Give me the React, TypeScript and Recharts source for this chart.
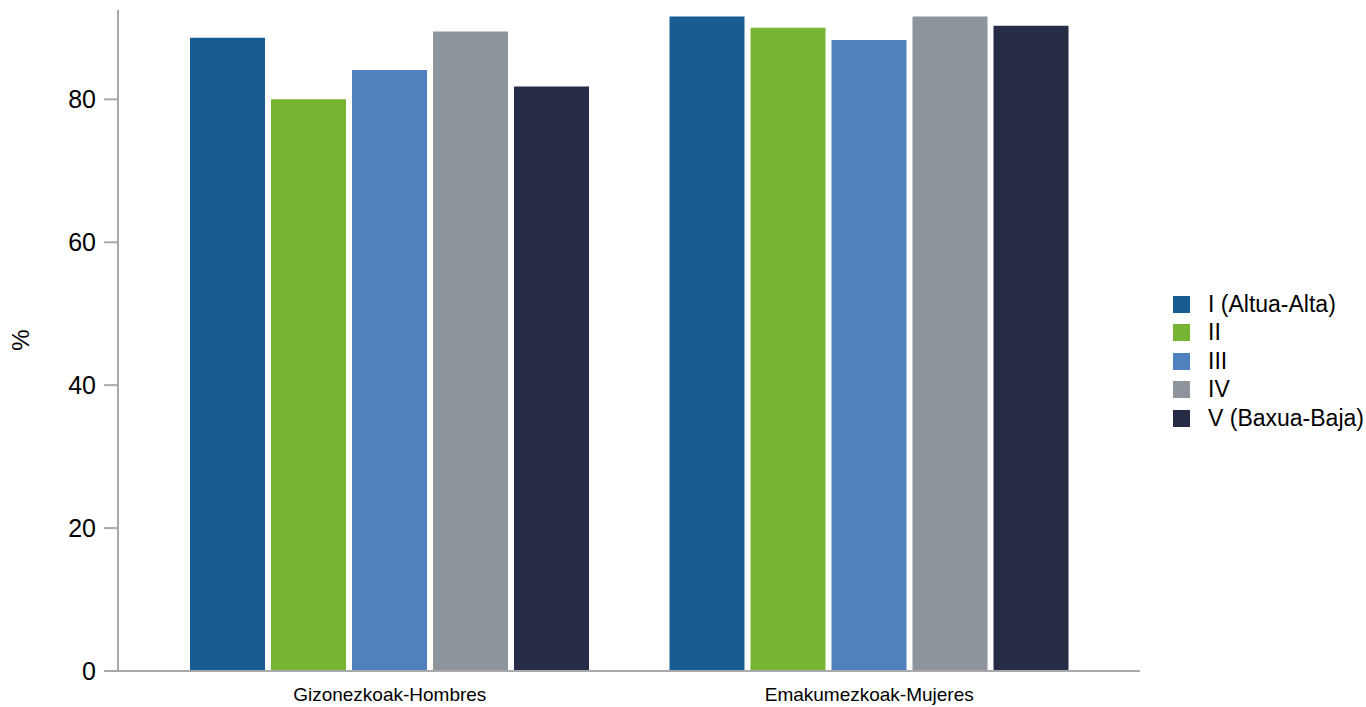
import { BarChart, Bar, XAxis, YAxis, Legend } from 'recharts';

const groups = ['Gizonezkoak-Hombres', 'Emakumezkoak-Mujeres'];

const seriesNames = ['I (Altua-Alta)', 'II', 'III', 'IV', 'V (Baxua-Baja)'];
const seriesColors = ['#175c92', '#76b431', '#4e81be', '#8d949b', '#262c45'];

// one array per class, values for [men, women]
const classI = [88.6, 91.6];
const classII = [80.0, 90.0];
const classIII = [84.1, 88.3];
const classIV = [89.5, 91.6];
const classV = [81.8, 90.3];

const yTicks = [0, 20, 40, 60, 80];

const seriesValues = [classI, classII, classIII, classIV, classV];

const data = groups.map((g, i) => {
  const row: Record<string, string | number> = { group: g };
  seriesNames.forEach((name, s) => {
    row[name] = seriesValues[s][i];
  });
  return row;
});

const font = '"Liberation Sans", Arial, sans-serif';
const axisGrey = '#a9a9a9';

function PercentLabel() {
  return (
    <text
      x={20}
      y={340}
      transform="rotate(-90 20 340)"
      textAnchor="middle"
      dominantBaseline="central"
      fontSize={24}
      fontFamily={font}
      fill="#000"
    >
      %
    </text>
  );
}

function LegendBox() {
  return (
    <div style={{ fontFamily: font, fontSize: 23, color: '#000' }}>
      {seriesNames.map((name, i) => (
        <div key={name} style={{ display: 'flex', alignItems: 'center', height: 28.5, whiteSpace: 'nowrap' }}>
          <span style={{ display: 'inline-block', width: 17, height: 17, background: seriesColors[i], marginRight: 18 }} />
          <span>{name}</span>
        </div>
      ))}
    </div>
  );
}

export default function App() {
  return (
    <div style={{ position: 'absolute', left: 0, top: 0, width: 1366, height: 707, background: '#fff' }}>
      <BarChart
        width={1366}
        height={707}
        data={data}
        margin={{ top: 10, right: 226, bottom: 6, left: 0 }}
        barSize={75}
        barGap={6}
      >
        <XAxis
          dataKey="group"
          height={30}
          padding={{ left: 32, right: 31 }}
          stroke={axisGrey}
          strokeWidth={2}
          tickLine={false}
          tickSize={6}
          tickMargin={11}
          tick={{ fontSize: 19, fontFamily: font, fill: '#000' }}
        />
        <YAxis
          width={118}
          domain={[0, 92.5]}
          ticks={yTicks}
          allowDataOverflow
          stroke={axisGrey}
          strokeWidth={2}
          tickSize={14}
          tickMargin={8}
          tick={{ fontSize: 25, fontFamily: font, fill: '#000' }}
          label={<PercentLabel />}
        />
        <Legend
          layout="vertical"
          align="center"
          verticalAlign="middle"
          content={<LegendBox />}
          wrapperStyle={{ left: 1173, top: 290, width: 193 }}
        />
        {seriesNames.map((name, i) => (
          <Bar key={name} dataKey={name} fill={seriesColors[i]} isAnimationActive={false} />
        ))}
      </BarChart>
    </div>
  );
}
